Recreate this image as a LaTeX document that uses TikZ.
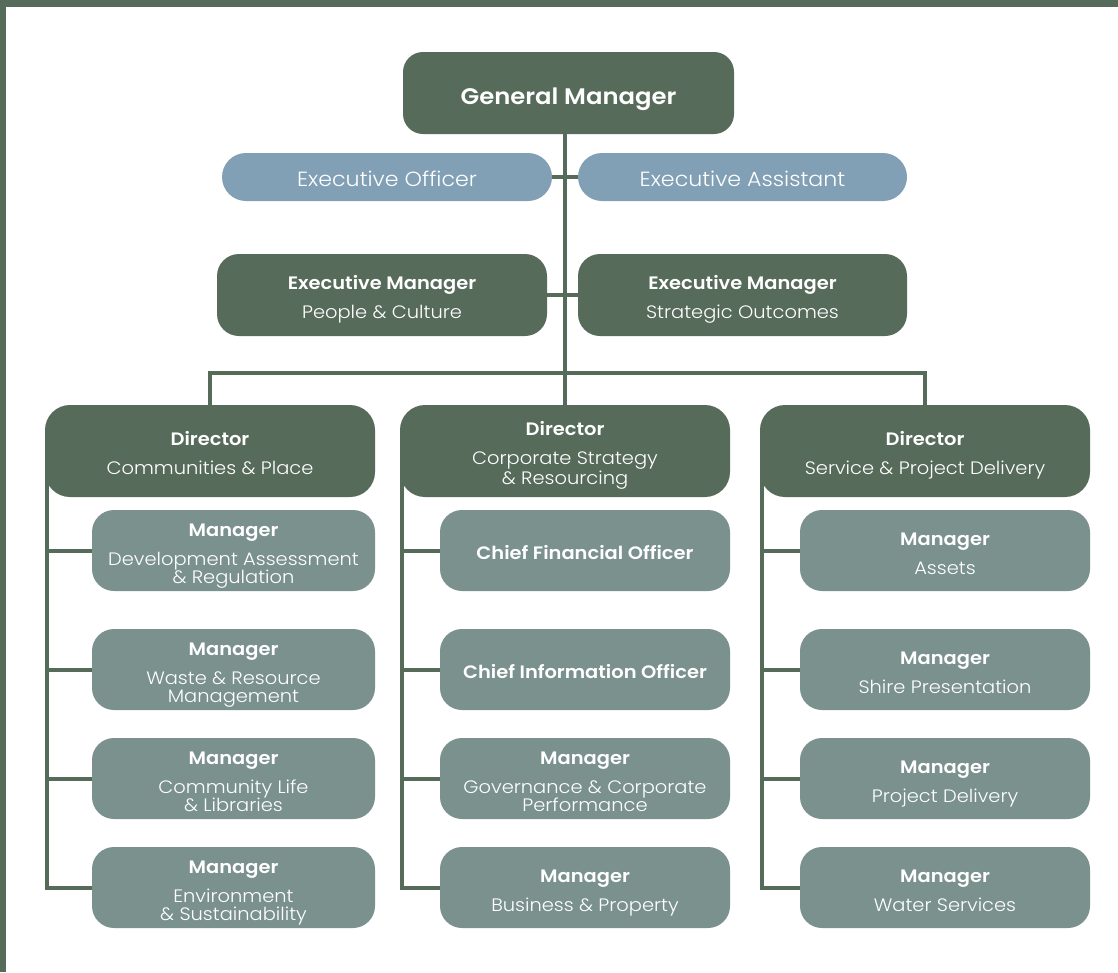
\documentclass[tikz,border=0pt]{standalone}
\usepackage{fontspec}
\setmainfont{Poppins}[UprightFont=* Light, BoldFont=* SemiBold, FakeStretch=1.08]
\usetikzlibrary{backgrounds}
\definecolor{ogreen}{RGB}{87,107,91}
\definecolor{oblue}{RGB}{130,160,181}
\definecolor{ogrey}{RGB}{122,145,142}
\newcommand{\hd}[1]{\rule{0pt}{18pt}\textbf{#1}}

\begin{document}
\begin{tikzpicture}[x=1pt,y=-1pt]
\tikzset{gmbox/.style={fill=ogreen,text=white,rounded corners=20pt,inner sep=0pt,minimum width=331pt,minimum height=82pt,text height=29.7pt,font=\fontsize{22.5}{28}\selectfont\bfseries},
offbox/.style={fill=oblue,text=white,rounded corners=24pt,inner sep=0pt,minimum width=330pt,minimum height=48pt,text height=18.5pt,font=\fontsize{20.5}{24}\selectfont},
embox/.style={fill=ogreen,text=white,rounded corners=22pt,inner sep=0pt,minimum width=330pt,minimum height=82pt,text depth=0pt,align=center,font=\fontsize{18}{29}\selectfont},
dirbox/.style={fill=ogreen,text=white,rounded corners=25pt,inner sep=0pt,minimum width=330pt,minimum height=92pt,text depth=0pt,align=center,font=\fontsize{18}{29}\selectfont},
mgrbox/.style={fill=ogrey,text=white,rounded corners=22pt,inner sep=0pt,minimum height=81pt,text depth=0pt,align=center,font=\fontsize{18}{29}\selectfont},
link/.style={draw=ogreen,line width=4pt}}
% top levels
\node[gmbox] (gm) at (568.5,93) {General Manager};
\node[offbox] (eo) at (387,177) {Executive Officer};
\node[offbox,minimum width=329pt] (ea) at (742.5,177) {Executive Assistant};
\node[embox] (emp) at (382,295) {\hd{Executive Manager}\\People \& Culture};
\node[embox,minimum width=329pt] (ems) at (742.5,295) {\hd{Executive Manager}\\Strategic Outcomes};
% directors
\node[dirbox] (dirA) at (210,451) {\hd{Director}\\Communities \& Place};
\node[dirbox] (dirB) at (565,451) {\hd{Director}\\Corporate Strategy\\[-9pt]\& Resourcing};
\node[dirbox] (dirC) at (925,451) {\hd{Director}\\Service \& Project Delivery};
% managers
\node[mgrbox,minimum width=283pt] (mA1) at (233.5,550.5) {\hd{Manager}\\Development Assessment\\[-11pt]\& Regulation};
\node[mgrbox,minimum width=283pt] (mA2) at (233.5,669.5) {\hd{Manager}\\Waste \& Resource\\[-11pt]Management};
\node[mgrbox,minimum width=283pt] (mA3) at (233.5,778.5) {\hd{Manager}\\Community Life\\[-11pt]\& Libraries};
\node[mgrbox,minimum width=283pt] (mA4) at (233.5,887.5) {\hd{Manager}\\Environment\\[-11pt]\& Sustainability};
\node[mgrbox,minimum width=290pt] (mB1) at (585,550.5) {\hd{Chief Financial Officer}};
\node[mgrbox,minimum width=290pt] (mB2) at (585,669.5) {\hd{Chief Information Officer}};
\node[mgrbox,minimum width=290pt] (mB3) at (585,778.5) {\hd{Manager}\\Governance \& Corporate\\[-11pt]Performance};
\node[mgrbox,minimum width=290pt] (mB4) at (585,887.5) {\hd{Manager}\\Business \& Property};
\node[mgrbox,minimum width=290pt] (mC1) at (945,550.5) {\hd{Manager}\\Assets};
\node[mgrbox,minimum width=290pt] (mC2) at (945,669.5) {\hd{Manager}\\Shire Presentation};
\node[mgrbox,minimum width=290pt] (mC3) at (945,778.5) {\hd{Manager}\\Project Delivery};
\node[mgrbox,minimum width=290pt] (mC4) at (945,887.5) {\hd{Manager}\\Water Services};
\coordinate (bar) at (565,373);
\begin{scope}[on background layer]
% frame
\fill[white] (0,0) rectangle (1118,972);
\fill[ogreen] (0,0) rectangle (6,972);
\fill[ogreen] (0,0) rectangle (1118,7);
% connectors
\draw[link] (gm.south -| bar) -- (bar);
\draw[link] (eo.east) -- (ea.west);
\draw[link] (emp.east) -- (ems.west);
\draw[link] (dirA.north) |- (bar) -| (dirC.north);
\draw[link] (bar) -- (dirB.north);
\foreach \c in {A,B,C} {
  \draw[link] ([xshift=2pt]dir\c.west) |- (m\c4.west);
  \foreach \r in {1,2,3}
    \draw[link] ([xshift=2pt]m\c\r.west -| dir\c.west) -- (m\c\r.west);
}
\end{scope}
\end{tikzpicture}
\end{document}
